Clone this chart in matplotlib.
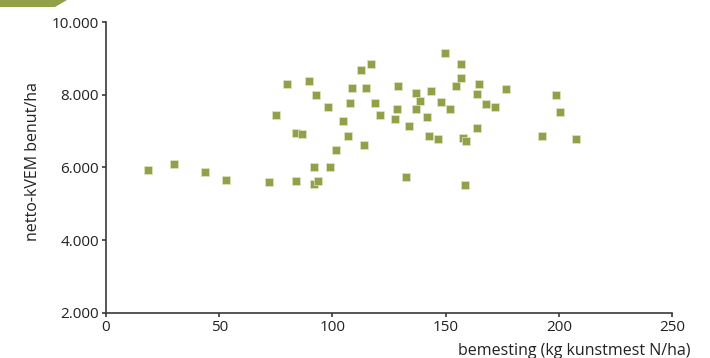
import matplotlib.pyplot as plt
import matplotlib.ticker as ticker
from matplotlib.patches import Polygon

plt.rcParams['font.family'] = ['Open Sans', 'DejaVu Sans']

# bemesting (kg kunstmest N/ha) vs netto-kVEM benut/ha
bemesting = [
    18.4, 29.9, 43.9, 52.9, 71.9, 83.9, 91.9, 93.8, 91.9, 98.8,
    101.7, 113.8, 106.8, 104.8, 127.8, 75.0, 83.9, 86.7, 97.9, 92.8,
    107.8, 118.8, 120.9, 128.7, 79.9, 89.8, 108.8, 114.7, 129.0, 112.8,
    116.9, 149.7, 156.8, 156.8, 154.7, 164.8, 136.8, 143.7, 138.7, 147.8,
    163.7, 176.7, 198.8, 136.8, 151.8, 167.8, 171.7, 200.7, 141.9, 133.8,
    142.8, 146.8, 157.8, 158.9, 163.7, 192.7, 207.7, 132.6, 158.7,
]
kvem = [
    5919, 6084, 5881, 5660, 5589, 5625, 5534, 5625, 6018, 6018,
    6486, 6607, 6855, 7284, 7323, 7433, 6945, 6918, 7661, 7983,
    7771, 7771, 7449, 7614, 8302, 8376, 8192, 8192, 8247, 8679,
    8844, 9155, 8852, 8467, 8239, 8302, 8038, 8101, 7826, 7807,
    8027, 8165, 7991, 7614, 7598, 7744, 7661, 7515, 7378, 7146,
    6855, 6789, 6800, 6725, 7075, 6855, 6780, 5735, 5506,
]

x_ticks = [0, 50, 100, 150, 200, 250]
y_ticks = [2000, 4000, 6000, 8000, 10000]

OLIVE = '#92a04a'
AXIS = '#3a3a3a'


def dotted_thousands(value, _pos):
    return f'{int(value):,}'.replace(',', '.')


fig = plt.figure(figsize=(7.1, 3.58), dpi=100)
ax = fig.add_axes([106 / 710, 1 - 312.7 / 358, 566 / 710, 290.7 / 358])

ax.scatter(bemesting, kvem, marker='s', s=27, color=OLIVE,
           edgecolors='#dfe5c4', linewidths=0.5, zorder=3, clip_on=False)

ax.set_xlim(0, 250)
ax.set_ylim(2000, 10000)
ax.set_xticks(x_ticks)
ax.set_yticks(y_ticks)
ax.yaxis.set_major_formatter(ticker.FuncFormatter(dotted_thousands))

for side in ('top', 'right'):
    ax.spines[side].set_visible(False)
for side in ('left', 'bottom'):
    ax.spines[side].set_color(AXIS)
    ax.spines[side].set_linewidth(1.2)

ax.tick_params(axis='both', direction='out', length=3, width=1.2,
               color=AXIS, labelsize=11, labelcolor='#222222', pad=2)

fig.text(33 / 710, 1 - 162 / 358, 'netto-kVEM benut/ha', rotation=90,
         ha='center', va='center', fontsize=11.5, color='#222222')
fig.text(690 / 710, 1 - 343 / 358, 'bemesting (kg kunstmest N/ha)',
         ha='right', va='top', fontsize=11.5, color='#222222')

# green tab in the top-left corner
tab = Polygon([(0, 1), (67 / 710, 1), (55 / 710, 1 - 7 / 358), (0, 1 - 7 / 358)],
              closed=True, transform=fig.transFigure, color=OLIVE, lw=0)
fig.patches.append(tab)

fig.savefig('out.png', dpi=100)
